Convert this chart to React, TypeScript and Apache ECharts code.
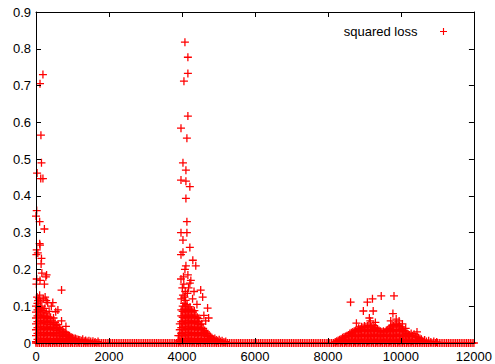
import React, { useEffect, useRef } from "react";
import * as echarts from "echarts";

const xTicks = { min: 0, max: 12000, interval: 2000 };
const yTicks = { min: 0, max: 0.9, interval: 0.1 };
const seriesName = "squared loss";

// sparse high losses (outliers above the dense cores)
const spikeATop: [number, number][] = [
  [190, 0.73], [110, 0.705], [135, 0.565], [150, 0.49], [30, 0.462], [130, 0.447], [190, 0.447],
  [20, 0.36], [0, 0.345], [100, 0.33], [230, 0.31], [100, 0.27], [110, 0.266], [20, 0.253],
  [50, 0.245], [10, 0.24], [150, 0.23], [140, 0.215], [160, 0.19], [290, 0.185], [270, 0.18],
  [20, 0.174], [110, 0.17], [10, 0.16], [230, 0.16], [700, 0.144], [100, 0.13], [250, 0.125],
  [200, 0.12], [60, 0.115], [320, 0.11], [460, 0.11], [600, 0.09], [30, 0.125], [80, 0.12],
  [280, 0.115], [420, 0.1], [540, 0.085], [700, 0.06], [820, 0.045],
];
const spikeBTop: [number, number][] = [
  [4081, 0.818], [4162, 0.777], [4162, 0.733], [4054, 0.712], [4162, 0.617], [3973, 0.584],
  [4135, 0.557], [4027, 0.49], [4108, 0.47], [3973, 0.443], [4108, 0.44], [4216, 0.425],
  [4108, 0.393], [4135, 0.33], [3973, 0.3], [4135, 0.3], [4027, 0.28], [4216, 0.26], [4027, 0.247],
  [3973, 0.24], [4297, 0.225], [4108, 0.21], [4378, 0.21], [4081, 0.2], [4162, 0.185], [3973, 0.174],
  [4243, 0.17], [4216, 0.163], [4513, 0.144], [4027, 0.13], [4567, 0.125], [4702, 0.095], [4730, 0.068],
  [4010, 0.15], [4050, 0.16], [4090, 0.14], [4150, 0.135], [4040, 0.18], [4180, 0.15], [4330, 0.14],
  [3980, 0.12], [4070, 0.125], [4290, 0.12], [4410, 0.105], [4600, 0.075], [4650, 0.06],
];
const humpCTop: [number, number][] = [
  [8620, 0.111], [9080, 0.111], [9220, 0.12], [9460, 0.128], [9810, 0.128], [8970, 0.087],
  [9240, 0.087], [9780, 0.08], [9135, 0.068], [8780, 0.054], [9160, 0.06], [9870, 0.065],
  [9720, 0.06], [9950, 0.06], [10040, 0.052], [10440, 0.03], [9300, 0.056], [10130, 0.04],
];

// dense cores: [x, losses observed at that x]
const spikeACore: [number, number[]][] = [
  [0, [0.004, 0.02, 0.036, 0.052, 0.068, 0.084, 0.1]],
  [40, [0.01, 0.026, 0.042, 0.058, 0.074, 0.09, 0.108]],
  [80, [0.006, 0.022, 0.038, 0.054, 0.07, 0.086, 0.096]],
  [120, [0.012, 0.028, 0.044, 0.06, 0.076, 0.092, 0.112]],
  [160, [0.004, 0.02, 0.036, 0.052, 0.068, 0.082, 0.1]],
  [200, [0.008, 0.024, 0.04, 0.056, 0.072, 0.088]],
  [240, [0.012, 0.028, 0.044, 0.06, 0.074, 0.094]],
  [280, [0.006, 0.022, 0.038, 0.054, 0.07, 0.082]],
  [320, [0.01, 0.026, 0.042, 0.058, 0.072]],
  [360, [0.004, 0.02, 0.036, 0.05, 0.066, 0.086]],
  [400, [0.008, 0.024, 0.04, 0.056, 0.07]],
  [440, [0.012, 0.028, 0.044, 0.06]],
  [480, [0.006, 0.022, 0.038, 0.052, 0.068]],
  [520, [0.01, 0.026, 0.042, 0.056]],
  [560, [0.004, 0.02, 0.034, 0.048]],
  [600, [0.008, 0.024, 0.04, 0.05]],
  [640, [0.012, 0.028, 0.042]],
  [680, [0.006, 0.02, 0.036]],
  [720, [0.01, 0.024, 0.032]],
  [760, [0.004, 0.018, 0.03]],
  [800, [0.008, 0.022, 0.028]],
  [840, [0.012, 0.024]],
  [880, [0.006, 0.018, 0.022]],
  [920, [0.01, 0.02]],
  [960, [0.004, 0.016]],
  [1000, [0.008, 0.014]],
  [1040, [0.012]],
  [1080, [0.006, 0.012]],
  [1120, [0.01]],
  [1160, [0.004, 0.009]],
  [1200, [0.008]],
  [1240, [0.006]],
  [1280, [0.01]],
  [1320, [0.005]],
  [1360, [0.007]],
  [1400, [0.004]],
  [1450, [0.006]],
  [1500, [0.004]],
  [1560, [0.005]],
  [1620, [0.003]],
  [1700, [0.004]],
];
const spikeBCore: [number, number[]][] = [
  [3900, [0.006, 0.02]],
  [3940, [0.004, 0.02, 0.036, 0.052]],
  [3980, [0.01, 0.026, 0.042, 0.058, 0.074, 0.09]],
  [4020, [0.006, 0.022, 0.038, 0.054, 0.07, 0.086, 0.1]],
  [4060, [0.012, 0.028, 0.044, 0.06, 0.076, 0.092, 0.108]],
  [4100, [0.004, 0.02, 0.036, 0.052, 0.068, 0.084, 0.1, 0.116]],
  [4140, [0.008, 0.024, 0.04, 0.056, 0.072, 0.088, 0.104]],
  [4180, [0.012, 0.028, 0.044, 0.06, 0.076, 0.092]],
  [4220, [0.006, 0.022, 0.038, 0.054, 0.07, 0.086, 0.098]],
  [4260, [0.01, 0.026, 0.042, 0.058, 0.074, 0.09]],
  [4300, [0.004, 0.02, 0.036, 0.052, 0.068, 0.084]],
  [4340, [0.008, 0.024, 0.04, 0.056, 0.072, 0.088]],
  [4380, [0.012, 0.028, 0.044, 0.06, 0.076]],
  [4420, [0.006, 0.022, 0.038, 0.054, 0.07]],
  [4460, [0.01, 0.026, 0.042, 0.058, 0.066]],
  [4500, [0.004, 0.02, 0.036, 0.05]],
  [4540, [0.008, 0.024, 0.04, 0.052]],
  [4580, [0.012, 0.028, 0.04]],
  [4620, [0.006, 0.022, 0.034]],
  [4660, [0.01, 0.026, 0.03]],
  [4700, [0.004, 0.018, 0.024]],
  [4740, [0.008, 0.02]],
  [4780, [0.012, 0.018]],
  [4820, [0.006, 0.014]],
  [4860, [0.01]],
  [4900, [0.004, 0.012]],
  [4940, [0.008]],
  [4980, [0.006]],
  [5020, [0.009]],
  [5060, [0.004]],
  [5100, [0.006]],
  [5150, [0.003]],
  [5200, [0.004]],
];
const humpCCore: [number, number[]][] = [
  [8200, [0.003]], [8240, [0.005]], [8280, [0.007]], [8320, [0.009]], [8360, [0.004, 0.011]],
  [8400, [0.006, 0.014]], [8440, [0.008, 0.016]], [8480, [0.004, 0.018]], [8520, [0.006, 0.02]],
  [8560, [0.008, 0.022]], [8600, [0.004, 0.018, 0.026]], [8640, [0.006, 0.02, 0.028]],
  [8680, [0.008, 0.022, 0.03]], [8720, [0.004, 0.018, 0.032]], [8760, [0.006, 0.02, 0.034]],
  [8800, [0.008, 0.022, 0.036]], [8840, [0.004, 0.018, 0.032, 0.04]], [8880, [0.006, 0.02, 0.034, 0.038]],
  [8920, [0.008, 0.022, 0.036, 0.044]], [8960, [0.004, 0.018, 0.032, 0.042]],
  [9000, [0.006, 0.02, 0.034, 0.046]], [9040, [0.008, 0.022, 0.036, 0.044]],
  [9080, [0.004, 0.018, 0.032, 0.046]], [9120, [0.006, 0.02, 0.034, 0.048]],
  [9160, [0.008, 0.022, 0.036, 0.046]], [9200, [0.004, 0.018, 0.032, 0.044]],
  [9240, [0.006, 0.02, 0.034, 0.048]], [9280, [0.008, 0.022, 0.036, 0.042]],
  [9320, [0.004, 0.018, 0.032, 0.04]], [9360, [0.006, 0.02, 0.034, 0.038]],
  [9400, [0.008, 0.022, 0.034]], [9440, [0.004, 0.018, 0.032]], [9480, [0.006, 0.02, 0.03]],
  [9520, [0.008, 0.022, 0.032]], [9560, [0.004, 0.018, 0.03]], [9600, [0.006, 0.02, 0.034]],
  [9640, [0.008, 0.022, 0.036]], [9680, [0.004, 0.018, 0.032, 0.04]],
  [9720, [0.006, 0.02, 0.034, 0.044]], [9760, [0.008, 0.022, 0.036, 0.048]],
  [9800, [0.004, 0.018, 0.032, 0.046]], [9840, [0.006, 0.02, 0.034, 0.05]],
  [9880, [0.008, 0.022, 0.036, 0.052]], [9920, [0.004, 0.018, 0.032, 0.048]],
  [9960, [0.006, 0.02, 0.034, 0.046]], [10000, [0.008, 0.022, 0.036, 0.044]],
  [10040, [0.004, 0.018, 0.032, 0.04]], [10080, [0.006, 0.02, 0.034]], [10120, [0.008, 0.022, 0.03]],
  [10160, [0.004, 0.018, 0.026]], [10200, [0.006, 0.02, 0.024]], [10240, [0.008, 0.022]],
  [10280, [0.004, 0.018, 0.026]], [10320, [0.006, 0.02]], [10360, [0.008, 0.024]],
  [10400, [0.004, 0.018]], [10440, [0.006, 0.016]], [10480, [0.008, 0.014]], [10520, [0.004, 0.012]],
  [10560, [0.01]], [10600, [0.006]], [10650, [0.008]], [10700, [0.004]], [10760, [0.006]],
  [10820, [0.003]], [10900, [0.004]], [10980, [0.003]],
];

// iterations whose loss is essentially zero (loss 0)
const baselineX: number[] = [
  0, 50, 100, 150, 200, 250, 300, 350, 400, 450, 500, 550, 600, 650, 700, 750, 800, 850, 900, 950,
  1000, 1050, 1100, 1150, 1200, 1250, 1300, 1350, 1400, 1450, 1500, 1550, 1600, 1650, 1700, 1750, 1800, 1850, 1900, 1950,
  2000, 2050, 2100, 2150, 2200, 2250, 2300, 2350, 2400, 2450, 2500, 2550, 2600, 2650, 2700, 2750, 2800, 2850, 2900, 2950,
  3000, 3050, 3100, 3150, 3200, 3250, 3300, 3350, 3400, 3450, 3500, 3550, 3600, 3650, 3700, 3750, 3800, 3850, 3900, 3950,
  4000, 4050, 4100, 4150, 4200, 4250, 4300, 4350, 4400, 4450, 4500, 4550, 4600, 4650, 4700, 4750, 4800, 4850, 4900, 4950,
  5000, 5050, 5100, 5150, 5200, 5250, 5300, 5350, 5400, 5450, 5500, 5550, 5600, 5650, 5700, 5750, 5800, 5850, 5900, 5950,
  6000, 6050, 6100, 6150, 6200, 6250, 6300, 6350, 6400, 6450, 6500, 6550, 6600, 6650, 6700, 6750, 6800, 6850, 6900, 6950,
  7000, 7050, 7100, 7150, 7200, 7250, 7300, 7350, 7400, 7450, 7500, 7550, 7600, 7650, 7700, 7750, 7800, 7850, 7900, 7950,
  8000, 8050, 8100, 8150, 8200, 8250, 8300, 8350, 8400, 8450, 8500, 8550, 8600, 8650, 8700, 8750, 8800, 8850, 8900, 8950,
  9000, 9050, 9100, 9150, 9200, 9250, 9300, 9350, 9400, 9450, 9500, 9550, 9600, 9650, 9700, 9750, 9800, 9850, 9900, 9950,
  10000, 10050, 10100, 10150, 10200, 10250, 10300, 10350, 10400, 10450, 10500, 10550, 10600, 10650, 10700, 10750, 10800, 10850, 10900, 10950,
  11000, 11050, 11100, 11150, 11200, 11250, 11300, 11350, 11400, 11450, 11500, 11550, 11600, 11650, 11700, 11750, 11800, 11850, 11900, 11950,
  12000,
];
const baselineLoss = 0;

const PLUS =
  "path://M4.2,0 L5.8,0 L5.8,4.2 L10,4.2 L10,5.8 L5.8,5.8 L5.8,10 L4.2,10 L4.2,5.8 L0,5.8 L0,4.2 L4.2,4.2 Z";
const FONT = "'Liberation Sans', Arial, Helvetica, sans-serif";

const flatten = (cols: [number, number[]][]) =>
  cols.flatMap(([x, ys]) => ys.map((y) => [x, y] as [number, number]));

export default function App() {
  const ref = useRef<HTMLDivElement>(null);
  useEffect(() => {
    if (!ref.current) return;
    const chart = echarts.init(ref.current, undefined, { renderer: "svg" });
    const axisCommon = {
      type: "value" as const,
      z: 5,
      axisLine: { show: true, onZero: false, lineStyle: { color: "#000", width: 1 } },
      axisTick: { show: true, inside: true, length: 5, lineStyle: { color: "#000", width: 1 } },
      splitLine: { show: false },
    };
    const label = { color: "#000", fontSize: 13, fontFamily: FONT };
    const data: [number, number][] = [
      ...baselineX.map((x) => [x, baselineLoss] as [number, number]),
      ...flatten(spikeACore),
      ...flatten(spikeBCore),
      ...flatten(humpCCore),
      ...spikeATop,
      ...spikeBTop,
      ...humpCTop,
    ];
    chart.setOption({
      animation: false,
      backgroundColor: "#fff",
      grid: { left: 36, right: 16, top: 12, bottom: 21, containLabel: false },
      legend: {
        show: true,
        data: [{ name: seriesName, icon: PLUS }],
        right: 43,
        top: 20,
        align: "right",
        itemWidth: 42,
        itemHeight: 7,
        textStyle: { color: "#000", fontSize: 13, fontFamily: FONT },
        selectedMode: false,
      },
      xAxis: [
        {
          ...axisCommon,
          position: "bottom",
          ...xTicks,
          axisLabel: { ...label, margin: 7, formatter: (v: number) => String(v) },
        },
        { ...axisCommon, position: "top", ...xTicks, axisLabel: { show: false } },
      ],
      yAxis: [
        {
          ...axisCommon,
          position: "left",
          ...yTicks,
          axisLabel: { ...label, margin: 5, formatter: (v: number) => String(+v.toFixed(1)) },
        },
        { ...axisCommon, position: "right", ...yTicks, axisLabel: { show: false } },
      ],
      series: [
        {
          name: seriesName,
          type: "scatter",
          xAxisIndex: 0,
          yAxisIndex: 0,
          symbol: PLUS,
          symbolSize: 8,
          itemStyle: { color: "#ff0000", opacity: 1 },
          data,
          clip: false,
          large: false,
        },
      ],
    });
    return () => chart.dispose();
  }, []);
  return (
    <div
      ref={ref}
      style={{ position: "fixed", left: 0, top: 0, width: 495, height: 364, background: "#fff" }}
    />
  );
}
